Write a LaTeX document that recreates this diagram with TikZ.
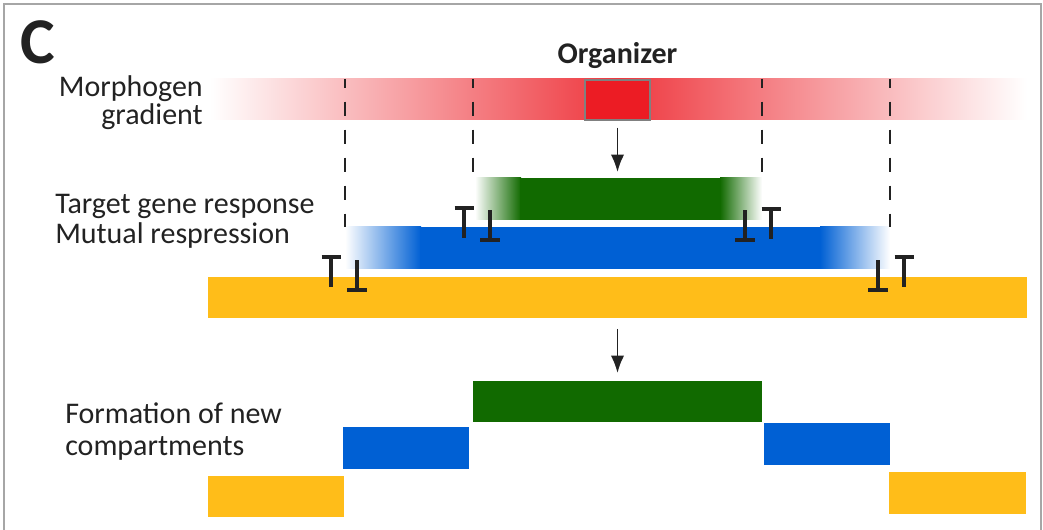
\documentclass[tikz,border=0pt]{standalone}
\usepackage{fontspec}
\setmainfont{Carlito}
\usetikzlibrary{arrows.meta,calc,positioning}
\definecolor{Morph}{HTML}{EC1C24}
\definecolor{Leaf}{HTML}{116A00}
\definecolor{Sea}{HTML}{0060D4}
\definecolor{Amber}{HTML}{FFBD19}
\definecolor{Frame}{HTML}{A6A6A6}
\definecolor{Ink}{HTML}{222222}

\begin{document}
\begin{tikzpicture}[x=0.75pt, y=-0.75pt, >=Latex,
    lbl/.style={font=\fontsize{22.5}{27}\selectfont, text=Ink, inner sep=0pt},
    block/.style={inner sep=0pt, outer sep=0pt, anchor=north west},
    cut/.style={dash pattern=on 11pt off 10pt, dash phase=4pt, line width=1.4pt, Ink},
    stop/.style={line width=3.2pt, Ink},
    arr/.style={-{Latex[length=13pt,width=10pt]}, line width=1.4pt, Ink}]
  \useasboundingbox (0,0) rectangle (1043,530);
  \draw[Frame, line width=1.5pt] (4,540) -- (4,4) -- (1041,4) -- (1041,540);
  \node[font=\bfseries\fontsize{49}{50}\selectfont, text=Ink, inner sep=0pt, anchor=base west] (panel) at (20,64) {C};

  % morphogen gradient and organizer
  \shade[left color=white, right color=white, middle color=Morph!88!white] (210,79) rectangle (1027,120);
  \node[draw=gray, line width=1.5pt, fill=Morph, minimum width=48.75pt, minimum height=30pt, inner sep=0pt] (org) at (617.5,100) {};
  \node[lbl, font=\bfseries\fontsize{22.5}{27}\selectfont, anchor=base] (orgtxt) at (617.5,64) {Organizer};
  \node[lbl, anchor=base east] (morph) at (203,97) {Morphogen};
  \node[lbl, anchor=base east] (grad) at (203,125) {gradient};

  % target gene response
  \shade[left color=white, right color=Leaf] (475,178) rectangle (521,220);
  \fill[Leaf] (520,178) rectangle (721,220);
  \shade[left color=Leaf, right color=white] (720,178) rectangle (762,220);
  % mutual repression
  \shade[left color=white, right color=Sea] (345,227) rectangle (421,269);
  \fill[Sea] (420,227) rectangle (821,269);
  \shade[left color=Sea, right color=white] (820,227) rectangle (890,269);
  \fill[Amber] (208,277) rectangle (1027,318);
  \node[lbl, anchor=base west] (target) at (55,214) {Target gene response};
  \node[lbl, anchor=base west] (mutual) at (55,244) {Mutual respression};

  \foreach \x/\y in {345/227, 473/178, 762/178, 890/227}
    \draw[cut] (\x,79) -- (\x,\y);
  \foreach \x/\y in {464/208, 771/209, 331/257, 904/257}
    \draw[stop] (\x-9.5,\y) -- (\x+9.5,\y) (\x,\y) -- (\x,\y+30);
  \foreach \x/\y in {490/240, 745/240, 357/290, 878/290}
    \draw[stop] (\x-10,\y) -- (\x+10,\y) (\x,\y) -- (\x,\y-30);

  \coordinate (gtop) at (617.5,172);
  \coordinate (split) at (617.5,329);
  \draw[arr] ([yshift=-5pt]org.south) -- (gtop);

  % new compartments
  \node[block, fill=Leaf, minimum width=216.75pt, minimum height=30.75pt] (newG) at (473,381) {};
  \node[block, fill=Sea, minimum width=94.5pt, minimum height=31.5pt] (newBl) at (343,427) {};
  \node[block, fill=Sea, minimum width=94.5pt, minimum height=31.5pt] (newBr) at (764,423) {};
  \node[block, fill=Amber, minimum width=102pt, minimum height=30.75pt] (newOl) at (208,476) {};
  \node[block, fill=Amber, minimum width=102.75pt, minimum height=31.5pt] (newOr) at (889,472) {};
  \draw[arr] (split) -- ([yshift=6pt]newG.north);
  \node[lbl, anchor=base west] (form) at (65,424) {Formation of new};
  \node[lbl, anchor=base west] (comp) at (65,456) {compartments};
\end{tikzpicture}
\end{document}
